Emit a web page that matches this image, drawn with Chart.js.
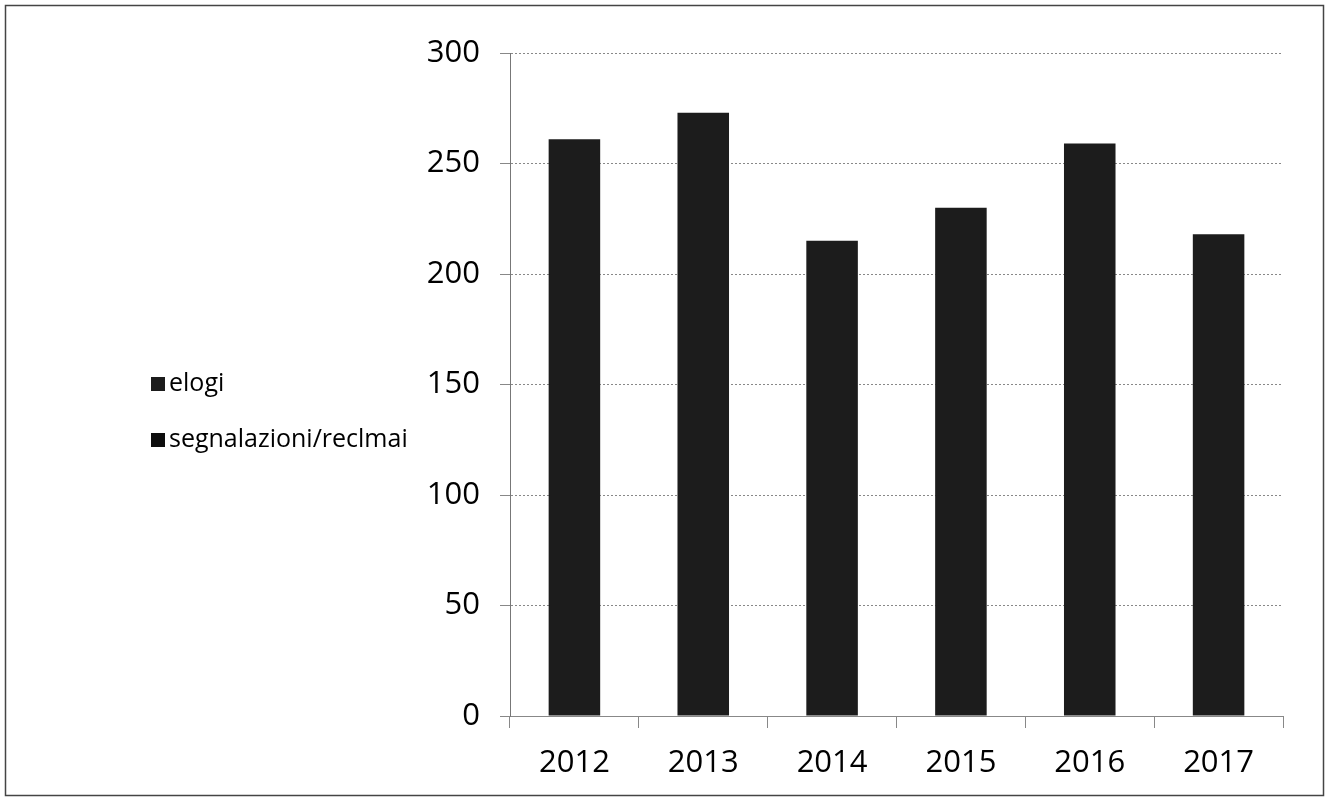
<!DOCTYPE html>
<html>
<head>
<meta charset="utf-8">
<script src="https://cdn.jsdelivr.net/npm/chart.js@4"></script>
<style>
  html, body { margin: 0; padding: 0; background: #fff; }
  #wrap { position: absolute; left: 0; top: 0; width: 1330px; height: 806px; }
</style>
</head>
<body>
<div id="wrap"><canvas id="c" width="1330" height="806"></canvas></div>
<script>
const years = ['2012', '2013', '2014', '2015', '2016', '2017'];
const elogi = [261, 273, 215, 230, 259, 218];
const segnalazioni = [0, 0, 0, 0, 0, 0];
const seriesNames = ['elogi', 'segnalazioni/reclmai'];
const yTicks = [0, 50, 100, 150, 200, 250, 300];

const frameAndLegend = {
  id: 'frameAndLegend',
  afterDraw(chart) {
    const ctx = chart.ctx;
    ctx.save();
    ctx.strokeStyle = '#444';
    ctx.lineWidth = 1.5;
    ctx.strokeRect(5.5, 5.5, 1318, 790);
    ctx.font = '25px "Open Sans"';
    ctx.textBaseline = 'middle';
    ctx.textAlign = 'left';
    chart.data.datasets.forEach((ds, i) => {
      const cy = 384 + i * 56;
      ctx.fillStyle = ds.backgroundColor;
      ctx.fillRect(151, cy - 7, 14, 14);
      ctx.fillStyle = '#000';
      ctx.fillText(ds.label, 169, cy);
    });
    ctx.restore();
  }
};

new Chart(document.getElementById('c'), {
  type: 'bar',
  data: {
    labels: years,
    datasets: [
      { label: seriesNames[0], data: elogi, backgroundColor: '#1c1c1c', barPercentage: 0.4, categoryPercentage: 1 },
      { label: seriesNames[1], data: segnalazioni, backgroundColor: '#0d0d0d', barPercentage: 0.4, categoryPercentage: 1 }
    ]
  },
  options: {
    responsive: false,
    animation: false,
    layout: { padding: { left: 410, right: 47, top: 53, bottom: 0 } },
    plugins: { legend: { display: false }, tooltip: { enabled: false } },
    scales: {
      x: {
        stacked: true,
        afterFit(s) { s.height = 90; },
        grid: { drawOnChartArea: false, drawTicks: true, tickLength: 12, color: '#888', offset: true },
        border: { color: '#888', width: 1 },
        ticks: { color: '#000', font: { family: 'Open Sans', size: 31 }, padding: 17, maxRotation: 0 }
      },
      y: {
        stacked: true,
        min: 0, max: 300,
        afterFit(s) { s.width = 100; },
        afterBuildTicks(s) { s.ticks = yTicks.map(v => ({ value: v })); },
        grid: { color: '#888', lineWidth: 1, tickLength: 10, drawTicks: true },
        border: { color: '#777', width: 1, dash: [2, 2] },
        ticks: { color: '#000', font: { family: 'Open Sans', size: 31 }, padding: 20 }
      }
    }
  },
  plugins: [frameAndLegend]
});
</script>
</body>
</html>
